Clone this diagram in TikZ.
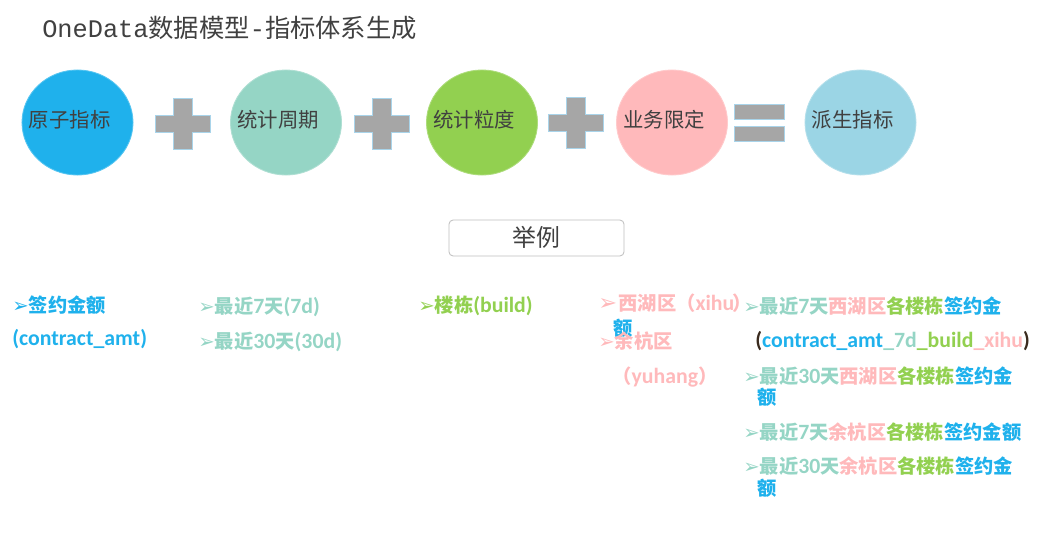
\documentclass[tikz,border=0pt]{standalone}
\usepackage{fontspec}
\setmainfont{Noto Sans CJK SC}
\newfontfamily\monofont{Liberation Mono}
\newfontfamily\symfont{DejaVu Sans}
\newfontfamily\latfont{Carlito}
\usetikzlibrary{shapes.geometric}

\definecolor{atomblue}{HTML}{1FB1EC}
\definecolor{periodteal}{HTML}{95D5C5}
\definecolor{graingreen}{HTML}{92D050}
\definecolor{limitpink}{HTML}{FFB9BB}
\definecolor{derivedblue}{HTML}{9BD5E5}
\definecolor{opgray}{HTML}{A6A6A6}
\definecolor{opedge}{HTML}{A9D4EA}
\definecolor{textgray}{HTML}{404040}
\definecolor{boxgray}{HTML}{BFBFBF}
\definecolor{parendark}{HTML}{3A2B1E}

\newcommand\bul{{\symfont\fontsize{14}{14}\selectfont ➢}}
\newcommand\bigbul{{\symfont\fontsize{16}{16}\selectfont ➢}}
\newcommand\lt[1]{{\latfont\fontsize{15.5}{16}\selectfont #1}}
\newcommand\cB[1]{\textcolor{atomblue}{#1}}
\newcommand\cP[1]{\textcolor{periodteal}{#1}}
\newcommand\cG[1]{\textcolor{graingreen}{#1}}
\newcommand\cL[1]{\textcolor{limitpink}{#1}}
\newcommand\cD[1]{\textcolor{parendark}{#1}}

\begin{document}
\begin{tikzpicture}[x=0.025cm,y=-0.025cm,
 bubble/.style={ellipse,minimum width=2.775cm,minimum height=2.625cm,inner sep=0pt},
 btxt/.style={anchor=west,inner sep=0pt,text=textgray,font=\fontsize{14.5}{16}\selectfont},
 item/.style={anchor=west,inner sep=0pt,font=\bfseries\fontsize{13.7}{16}\selectfont},
 opsign/.style={fill=opgray,draw=opedge,line width=0.6pt}]
\useasboundingbox (0,0) rectangle (1055,554);

\node[anchor=west,inner sep=0pt,text=textgray,font=\fontsize{18}{20}\selectfont] (title) at (42,28)
  {{\monofont OneData}数据模型{\monofont -}指标体系生成};

% formula row
\foreach \n/\x/\c/\t in {atom/77.5/atomblue/原子指标,period/286/periodteal/统计周期,
  grain/482/graingreen/统计粒度,limit/672/limitpink/业务限定,derived/860.5/derivedblue/派生指标}{
  \node[bubble,fill=\c,draw=\c!75!white,line width=0.6pt] (\n) at (\x,122.5) {};
  \node[btxt] (\n lbl) at ([xshift=0.175cm,yshift=0.06cm]\n.west) {\t};
}
\foreach \cx/\cy in {182.5/123.5,382/123.5,576/123}
  \draw[opsign,shift={(\cx,\cy)}] (-9.5,-25.5) -- (9.5,-25.5) -- (9.5,-8.5) -- (27.5,-8.5)
    -- (27.5,8.5) -- (9.5,8.5) -- (9.5,25.5) -- (-9.5,25.5) -- (-9.5,8.5) -- (-27.5,8.5)
    -- (-27.5,-8.5) -- (-9.5,-8.5) -- cycle;
\draw[opsign] (734,104) rectangle (784,119);
\draw[opsign] (734,126) rectangle (784,141);

\node[draw=boxgray,rounded corners=3pt,line width=0.6pt,minimum width=4.375cm,minimum height=0.9cm,
  text depth=0.3em,text=textgray,font=\fontsize{17}{18}\selectfont] (ex) at (536.5,238) {举例};

% example columns
\node[item,text=atomblue] (amt) at (12,305) {\bul{}签约金额};
\node[item,text=atomblue] (amtcode) at (12,339) {\lt{(contract\_amt)}};
\node[item,text=periodteal] (d7) at (198,307) {\bul{}最近\lt{7}天\lt{(7d)}};
\node[item,text=periodteal] (d30) at (198,342) {\bul{}最近\lt{30}天\lt{(30d)}};
\node[item,text=graingreen] (build) at (418,306) {\bul{}楼栋\lt{(build)}};
\node[item,text=limitpink] (xihu) at (598,303) {\bigbul{}\kern1pt西湖区（\lt{xihu}\kern-1.5pt）};
\node[item,text=atomblue] (stray) at (613,328) {额};
\node[item,text=limitpink] (yuhang) at (598,341) {\bul{}余杭区};
\node[item,text=limitpink] (yuhangcode) at (612,377) {（\lt{yuhang}）};

\node[item] (r1) at (743,306) {\cP{\bul{}最近\lt{7}天}\cL{西湖区}\cG{各楼栋}\cB{签约金}};
\node[item] (r1code) at (755,341)
  {\lt{\cD{(}\cB{contract\_amt}\cP{\_7d}\cG{\_build}\cL{\_xihu}\cD{)}}};
\node[item] (r2) at (743,376) {\cP{\bul{}最近\lt{30}天}\cL{西湖区}\cG{各楼栋}\cB{签约金}};
\node[item,text=atomblue] (r2b) at (757,397) {额};
\node[item] (r3) at (743,432) {\cP{\bul{}最近\lt{7}天}\cL{余杭区}\cG{各楼栋}\cB{签约金额}};
\node[item] (r4) at (743,466) {\cP{\bul{}最近\lt{30}天}\cL{余杭区}\cG{各楼栋}\cB{签约金}};
\node[item,text=atomblue] (r4b) at (757,488) {额};
\end{tikzpicture}
\end{document}
